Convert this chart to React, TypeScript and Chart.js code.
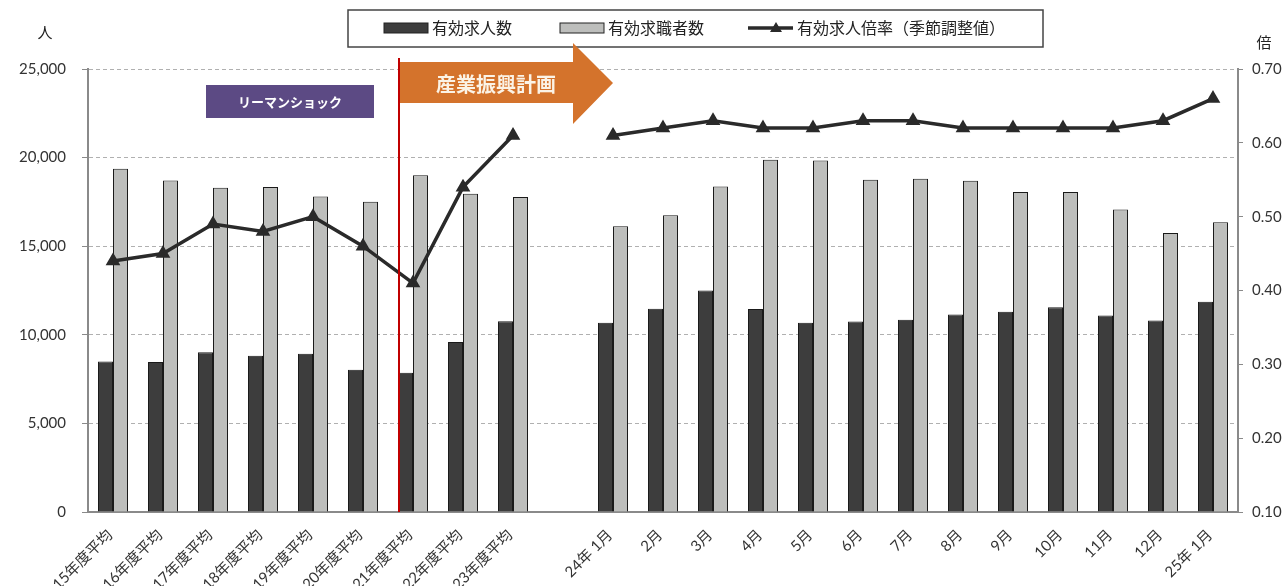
import React, { useEffect, useRef } from 'react';
import { Chart, registerables } from 'chart.js';

Chart.register(...registerables);

const categories = [
  '15年度平均', '16年度平均', '17年度平均', '18年度平均', '19年度平均', '20年度平均',
  '21年度平均', '22年度平均', '23年度平均', '',
  '24年 1月', '2月', '3月', '4月', '5月', '6月', '7月', '8月', '9月', '10月', '11月', '12月', '25年 1月',
];

const jobOffers = [
  8500, 8460, 9010, 8820, 8930, 8030, 7860, 9590, 10770, null,
  10680, 11470, 12500, 11450, 10680, 10750, 10850, 11150, 11300, 11560, 11090, 10810, 11860,
];

const jobSeekers = [
  19370, 18710, 18300, 18340, 17810, 17510, 19010, 17960, 17770, null,
  16130, 16740, 18370, 19880, 19840, 18750, 18810, 18690, 18060, 18060, 17070, 15750, 16350,
];

const ratio = [
  0.44, 0.45, 0.49, 0.48, 0.50, 0.46, 0.41, 0.54, 0.61, null,
  0.61, 0.62, 0.63, 0.62, 0.62, 0.63, 0.63, 0.62, 0.62, 0.62, 0.62, 0.63, 0.66,
];

const seriesNames = ['有効求人数', '有効求職者数', '有効求人倍率（季節調整値）'];
const leftUnit = '人';
const rightUnit = '倍';
const lehmanLabel = 'リーマンショック';
const planLabel = '産業振興計画';
const planStartIndex = 6;
const planArrowEndIndex = 10;

const FONT = "Lato, 'Noto Sans CJK JP', sans-serif";
const CJK = "'Noto Sans CJK JP', sans-serif";
const DARK = '#3d3d3d';
const LIGHT = '#bdbebc';
const LINE = '#2a2a2a';

const overlayPlugin = {
  id: 'overlay',
  afterDraw(chart: any) {
    const { ctx, chartArea, scales } = chart;
    const xs = scales.x;
    const step = xs.getPixelForValue(1) - xs.getPixelForValue(0);
    ctx.save();

    // axis units
    ctx.fillStyle = '#222';
    ctx.font = `15px ${CJK}`;
    ctx.textAlign = 'center';
    ctx.textBaseline = 'middle';
    ctx.fillText(leftUnit, chartArea.left - 43, 32);
    ctx.fillText(rightUnit, chartArea.right + 26, 42);

    // legend box
    ctx.strokeStyle = '#444';
    ctx.lineWidth = 1.5;
    ctx.strokeRect(348, 10, 695, 37);
    const ly = 28;
    ctx.lineWidth = 1;
    ctx.strokeStyle = '#222';
    ctx.fillStyle = DARK;
    ctx.fillRect(384, ly - 5, 44, 10);
    ctx.strokeRect(384, ly - 5, 44, 10);
    ctx.fillStyle = LIGHT;
    ctx.fillRect(560, ly - 5, 44, 10);
    ctx.strokeRect(560, ly - 5, 44, 10);
    ctx.strokeStyle = LINE;
    ctx.lineWidth = 3.5;
    ctx.beginPath();
    ctx.moveTo(748, ly);
    ctx.lineTo(793, ly);
    ctx.stroke();
    ctx.fillStyle = LINE;
    ctx.beginPath();
    ctx.moveTo(776, ly - 6);
    ctx.lineTo(782, ly + 4);
    ctx.lineTo(770, ly + 4);
    ctx.closePath();
    ctx.fill();
    ctx.fillStyle = '#222';
    ctx.font = `16px ${CJK}`;
    ctx.textAlign = 'left';
    ctx.fillText(seriesNames[0], 432, ly);
    ctx.fillText(seriesNames[1], 608, ly);
    ctx.fillText(seriesNames[2], 797, ly);

    // Lehman shock box
    ctx.fillStyle = '#5c4a84';
    ctx.fillRect(206, 85, 168, 33);
    ctx.fillStyle = '#ffffff';
    ctx.font = `bold 13px ${CJK}`;
    ctx.textAlign = 'center';
    ctx.fillText(lehmanLabel, 290, 102);

    // red start line
    const redX = xs.getPixelForValue(planStartIndex) - step * 0.3 + 1;
    ctx.strokeStyle = '#c00000';
    ctx.lineWidth = 2;
    ctx.beginPath();
    ctx.moveTo(redX, 58);
    ctx.lineTo(redX, chartArea.bottom);
    ctx.stroke();

    // orange arrow
    const tipX = xs.getPixelForValue(planArrowEndIndex);
    const headX = tipX - 40;
    ctx.fillStyle = '#d4732c';
    ctx.beginPath();
    ctx.moveTo(redX - 1, 62);
    ctx.lineTo(headX, 62);
    ctx.lineTo(headX, 43);
    ctx.lineTo(tipX, 83);
    ctx.lineTo(headX, 124);
    ctx.lineTo(headX, 103);
    ctx.lineTo(redX - 1, 103);
    ctx.closePath();
    ctx.fill();
    ctx.strokeStyle = '#c00000';
    ctx.lineWidth = 2;
    ctx.beginPath();
    ctx.moveTo(redX, 58);
    ctx.lineTo(redX, 103);
    ctx.stroke();
    ctx.fillStyle = '#fbf3e6';
    ctx.font = `bold 20px ${CJK}`;
    ctx.textAlign = 'center';
    ctx.fillText(planLabel, 496, 84);

    ctx.restore();
  },
};

export default function App() {
  const ref = useRef<HTMLCanvasElement | null>(null);

  useEffect(() => {
    if (!ref.current) return;
    const chart = new Chart(ref.current, {
      type: 'bar',
      data: {
        labels: categories,
        datasets: [
          {
            type: 'line',
            label: seriesNames[2],
            data: ratio,
            yAxisID: 'y1',
            borderColor: LINE,
            backgroundColor: LINE,
            borderWidth: 3.5,
            pointStyle: 'triangle',
            pointRadius: 5,
            pointBackgroundColor: LINE,
            pointBorderColor: LINE,
            spanGaps: false,
            tension: 0,
            order: 0,
          } as any,
          {
            label: seriesNames[0],
            data: jobOffers,
            yAxisID: 'y',
            backgroundColor: DARK,
            borderColor: '#1a1a1a',
            borderWidth: 1,
            categoryPercentage: 0.6,
            barPercentage: 1.0,
            order: 1,
          },
          {
            label: seriesNames[1],
            data: jobSeekers,
            yAxisID: 'y',
            backgroundColor: LIGHT,
            borderColor: '#1a1a1a',
            borderWidth: 1,
            categoryPercentage: 0.6,
            barPercentage: 1.0,
            order: 1,
          },
        ],
      },
      options: {
        responsive: false,
        animation: false,
        layout: { padding: { top: 69, left: 0, right: 0, bottom: 0 } },
        plugins: {
          legend: { display: false },
          tooltip: { enabled: false },
        },
        scales: {
          x: {
            type: 'category',
            offset: true,
            grid: { display: false, drawTicks: false },
            border: { display: true, color: '#8a8a8a', width: 2 },
            ticks: {
              autoSkip: false,
              maxRotation: 45,
              minRotation: 45,
              padding: 14,
              labelOffset: -3,
              color: '#333',
              font: { family: FONT, size: 15 },
            },
            afterFit: (s: any) => { s.height = 74; },
          },
          y: {
            position: 'left',
            min: 0,
            max: 25000,
            grid: { color: '#b0b0b0', lineWidth: 1, tickLength: 6, tickColor: '#8a8a8a' },
            border: { color: '#8a8a8a', width: 2, dash: [4, 3] },
            ticks: {
              stepSize: 5000,
              padding: 16,
              color: '#333',
              font: { family: FONT, size: 15 },
              callback: (v: any) => Number(v).toLocaleString('en-US'),
            },
            afterFit: (s: any) => { s.width = 88; },
          },
          y1: {
            position: 'right',
            min: 0.1,
            max: 0.7,
            grid: { drawOnChartArea: false, tickLength: 5, color: '#8a8a8a' },
            border: { color: '#8a8a8a', width: 2 },
            ticks: {
              stepSize: 0.1,
              padding: 9,
              color: '#333',
              font: { family: FONT, size: 15 },
              callback: (v: any) => Number(v).toFixed(2),
            },
            afterFit: (s: any) => { s.width = 50; },
          },
        },
      },
      plugins: [overlayPlugin],
    });
    return () => chart.destroy();
  }, []);

  return (
    <div style={{ position: 'fixed', left: 0, top: 0, width: 1288, height: 586, background: '#fff' }}>
      <canvas ref={ref} width={1288} height={586} style={{ display: 'block' }} />
    </div>
  );
}
